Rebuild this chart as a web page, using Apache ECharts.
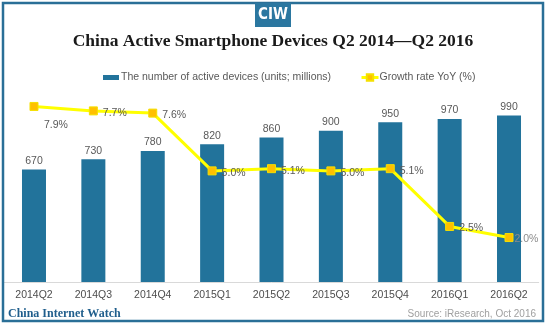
<!DOCTYPE html>
<html>
<head>
<meta charset="utf-8">
<script src="https://cdn.jsdelivr.net/npm/echarts@6/dist/echarts.min.js"></script>
<style>
html,body{margin:0;padding:0;background:#fff;}
#chart{width:546px;height:327px;}
</style>
</head>
<body>
<div id="chart"></div>
<script>
const categories = ['2014Q2','2014Q3','2014Q4','2015Q1','2015Q2','2015Q3','2015Q4','2016Q1','2016Q2'];
const devices = [670, 730, 780, 820, 860, 900, 950, 970, 990];
const growth = [7.9, 7.7, 7.6, 5.0, 5.1, 5.0, 5.1, 2.5, 2.0];
const barName = 'The number of active devices (units; millions)';
const lineName = 'Growth rate YoY (%)';
const titleText = 'China Active Smartphone Devices Q2 2014\u2014Q2 2016';

const chart = echarts.init(document.getElementById('chart'), null, {renderer: 'canvas'});
const sans = '"Liberation Sans", Arial, sans-serif';
const serif = '"Liberation Serif", "DejaVu Serif", serif';

const lineData = growth.map((v, i) => {
  const item = {value: v};
  if (i === 0) item.label = {position: 'bottom', offset: [22, 4]};
  if (i === growth.length - 1) item.label = {color: '#8c8c8c', distance: 1};
  return item;
});

chart.setOption({
  animation: false,
  backgroundColor: '#fff',
  grid: {left: 4.3, right: 7.3, top: 82, bottom: 45},
  legend: [
    {
      data: [barName], left: 98, top: 67, icon: 'rect', itemWidth: 16, itemHeight: 5,
      textStyle: {fontFamily: sans, fontSize: 10.5, color: '#595959', padding: [0,0,0,-3]}
    },
    {
      data: [lineName], left: 355, top: 67, itemWidth: 17, itemHeight: 8,
      lineStyle: {width: 3, color: '#ffff00'},
      textStyle: {fontFamily: sans, fontSize: 10.5, color: '#595959', padding: [0,0,0,-4]}
    }
  ],
  xAxis: {
    type: 'category', data: categories,
    axisLine: {lineStyle: {color: '#d9d9d9', width: 1}},
    axisTick: {show: false},
    axisLabel: {fontFamily: sans, fontSize: 10.5, color: '#4d4d4d', margin: 8}
  },
  yAxis: [
    {type: 'value', min: 0, max: 1190, show: false, splitLine: {show: false}},
    {type: 'value', min: 0, max: 9, show: false, splitLine: {show: false}}
  ],
  series: [
    {
      name: barName, type: 'bar', data: devices, barWidth: 24,
      itemStyle: {color: '#22739b'},
      label: {show: true, position: 'top', distance: 3, fontFamily: sans, fontSize: 10.5, color: '#595959'}
    },
    {
      name: lineName, type: 'line', yAxisIndex: 1, data: lineData,
      symbol: 'rect', symbolSize: 8,
      lineStyle: {color: '#ffff00', width: 3},
      itemStyle: {color: '#ffc000', borderColor: '#f5e000', borderWidth: 1},
      label: {show: true, position: 'right', distance: 5, offset: [0, 2], fontFamily: sans, fontSize: 10.5, color: '#595959',
        formatter: p => p.value.toFixed(1) + '%'}
    }
  ],
  graphic: [
    {type: 'rect', shape: {x: 3, y: 3, width: 540, height: 318}, style: {fill: null, stroke: '#2a6f97', lineWidth: 2.5}, z: 100},
    {type: 'rect', shape: {x: 255, y: 3, width: 36, height: 24}, style: {fill: '#2b77a0'}, z: 100},
    {type: 'text', x: 273, y: 15, style: {text: 'CIW', fill: '#fff', font: 'bold 15px "Liberation Sans Narrow", "DejaVu Sans Condensed", sans-serif', textAlign: 'center', textVerticalAlign: 'middle'}, z: 101},
    {type: 'text', x: 273, y: 41, style: {text: titleText, fill: '#1a1a1a', font: 'bold 17.5px ' + serif, textAlign: 'center', textVerticalAlign: 'middle'}, z: 101},
    {type: 'text', x: 8, y: 314, style: {text: 'China Internet Watch', fill: '#1f5e8c', font: 'bold 12px ' + serif, textAlign: 'left', textVerticalAlign: 'middle'}, z: 101},
    {type: 'text', x: 536, y: 314, style: {text: 'Source: iResearch, Oct 2016', fill: '#a0a0a0', font: '10px ' + sans, textAlign: 'right', textVerticalAlign: 'middle'}, z: 101}
  ]
});
</script>
</body>
</html>
